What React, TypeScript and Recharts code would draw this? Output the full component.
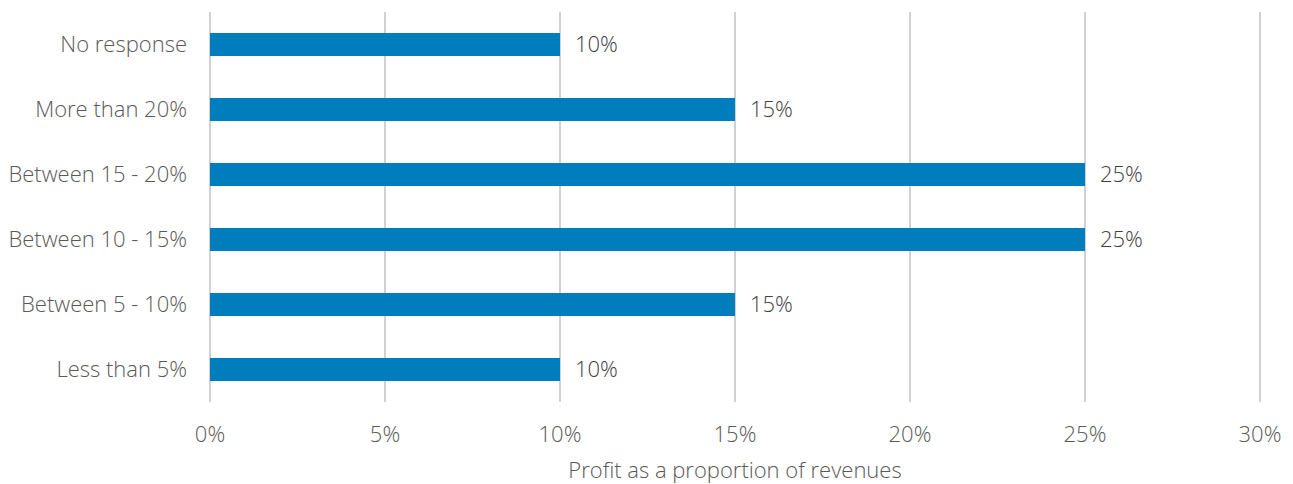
import { BarChart, Bar, XAxis, YAxis, CartesianGrid, LabelList, Label } from "recharts";

const categories = [
  "No response",
  "More than 20%",
  "Between 15 - 20%",
  "Between 10 - 15%",
  "Between 5 - 10%",
  "Less than 5%",
];
const shares = [10, 15, 25, 25, 15, 10];
const xTicks = [0, 5, 10, 15, 20, 25, 30];

const data = categories.map((name, i) => ({ name, value: shares[i] }));

const font = "'Open Sans', 'Noto Sans', sans-serif";

export default function App() {
  return (
    <div style={{ position: "absolute", left: 0, top: 0, background: "#fff" }}>
      <BarChart
        width={1293}
        height={484}
        data={data}
        layout="vertical"
        margin={{ top: 12, right: 33, bottom: 0, left: 0 }}
      >
        <CartesianGrid horizontal={false} stroke="#c6c6c6" strokeWidth={1.6} />
        <XAxis
          type="number"
          domain={[0, 30]}
          ticks={xTicks}
          tickFormatter={(v) => `${v}%`}
          axisLine={false}
          tickLine={false}
          tickSize={0}
          tickMargin={24}
          height={82}
          interval={0}
          tick={{ fill: "#595959", fontSize: 22, fontFamily: font, fontWeight: 300 }}
        >
          <Label
            value="Profit as a proportion of revenues"
            position="insideBottom"
            offset={6}
            style={{ fill: "#595959", fontSize: 22, fontFamily: font, fontWeight: 300 }}
          />
        </XAxis>
        <YAxis
          type="category"
          dataKey="name"
          width={210}
          axisLine={false}
          tickLine={false}
          tickSize={0}
          tickMargin={23}
          interval={0}
          tick={{ fill: "#595959", fontSize: 22, fontFamily: font, fontWeight: 300 }}
        />
        <Bar dataKey="value" fill="#007dbc" barSize={23} isAnimationActive={false}>
          <LabelList
            dataKey="value"
            position="right"
            offset={15}
            formatter={(v: number) => `${v}%`}
            style={{ fill: "#404040", fontSize: 22, fontFamily: font, fontWeight: 300 }}
          />
        </Bar>
      </BarChart>
    </div>
  );
}
